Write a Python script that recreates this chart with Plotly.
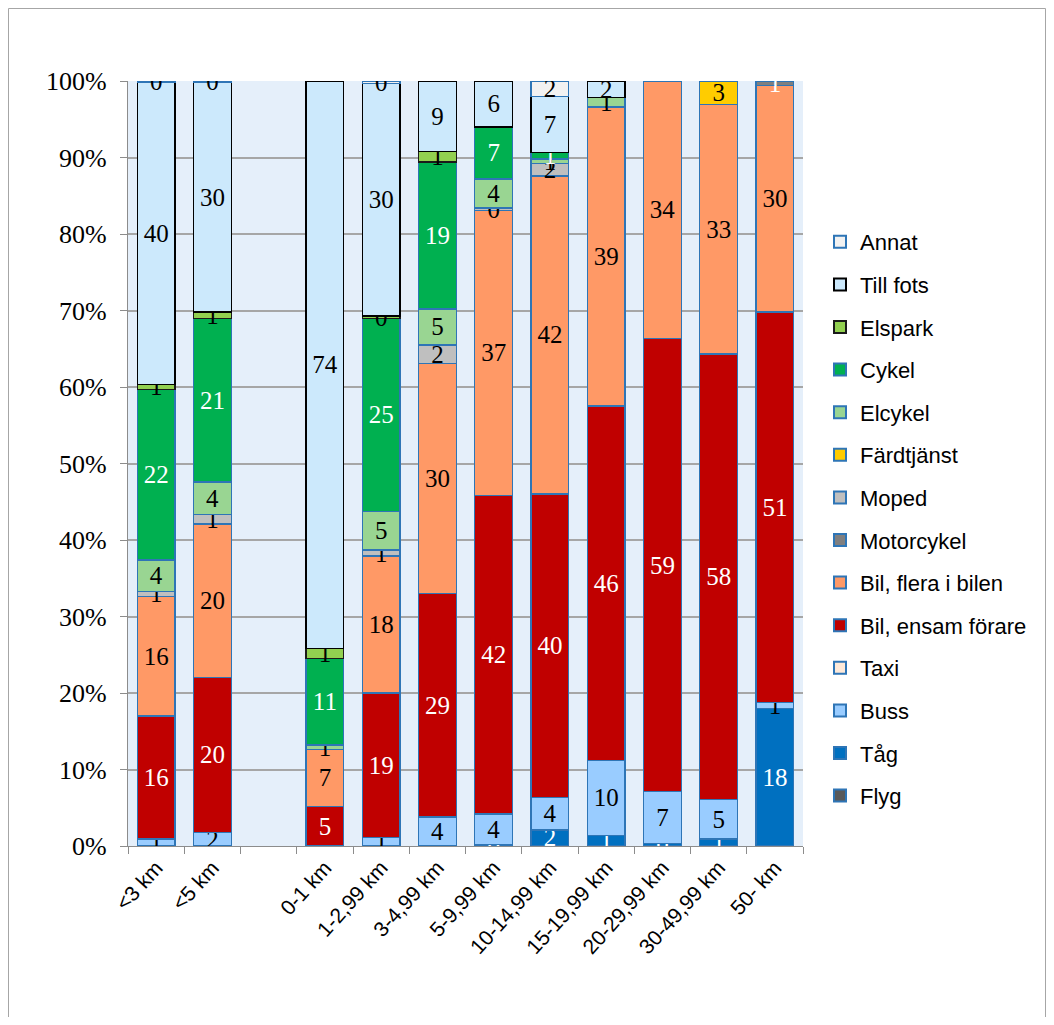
import plotly.graph_objects as go

categories = ["<3 km", "<5 km", " ", "0-1 km", "1-2,99 km", "3-4,99 km", "5-9,99 km",
              "10-14,99 km", "15-19,99 km", "20-29,99 km", "30-49,99 km", "50- km"]

# Stack order: bottom to top
flyg        = [None, None, None, None, None, None, None, None, None, None, None, None]
tag         = [None, None, None, None, None, None, 0.2, 2.1, 1.4, 0.3, 0.9, 18.0]
buss        = [0.9, 1.8, None, None, 1.1, 3.8, 4.0, 4.2, 9.8, 6.8, 5.2, 0.8]
taxi        = [None, None, None, None, None, None, None, None, None, None, None, None]
bil_ensam   = [16.1, 20.2, None, 5.2, 18.9, 29.2, 41.6, 39.7, 46.3, 59.2, 58.2, 51.0]
bil_flera   = [15.6, 20.1, None, 7.4, 17.9, 30.1, 37.3, 41.6, 39.1, 33.7, 32.6, 29.6]
motorcykel  = [None, None, None, None, None, None, None, None, None, None, None, 0.6]
moped       = [0.7, 1.2, None, None, 0.8, 2.4, 0.3, 1.6, None, None, None, None]
fardtjanst  = [None, None, None, None, None, None, None, None, None, None, 3.1, None]
elcykel     = [4.1, 4.3, None, 0.6, 5.0, 4.7, 3.8, 0.6, 1.2, None, None, None]
cykel       = [22.3, 21.4, None, 11.3, 25.3, 19.2, 6.8, 0.9, None, None, None, None]
elspark     = [0.6, 0.8, None, 1.3, 0.3, 1.4, None, None, None, None, None, None]
till_fots   = [39.5, 30.0, None, 74.2, 30.4, 9.2, 6.0, 7.3, 2.2, None, None, None]
annat       = [0.2, 0.2, None, None, 0.3, None, None, 2.0, None, None, None, None]

series = [
    ("Flyg", flyg, "#595959", "#2e75b6", "white"),
    ("Tåg", tag, "#0070c0", "#2e75b6", "white"),
    ("Buss", buss, "#99ccff", "#2e75b6", "black"),
    ("Taxi", taxi, "#fde9d9", "#2e75b6", "black"),
    ("Bil, ensam förare", bil_ensam, "#c00000", "#2e75b6", "white"),
    ("Bil, flera i bilen", bil_flera, "#ff9966", "#2e75b6", "black"),
    ("Motorcykel", motorcykel, "#7f7f7f", "#2e75b6", "white"),
    ("Moped", moped, "#bfbfbf", "#2e75b6", "black"),
    ("Färdtjänst", fardtjanst, "#ffcc00", "#2e75b6", "black"),
    ("Elcykel", elcykel, "#99d592", "#2e75b6", "black"),
    ("Cykel", cykel, "#00b050", "#2e75b6", "white"),
    ("Elspark", elspark, "#92d050", "#1a1a1a", "black"),
    ("Till fots", till_fots, "#cce9fc", "#000000", "black"),
    ("Annat", annat, "#f2f2f2", "#2e75b6", "black"),
]

fig = go.Figure()
n = len(series)
for i, (name, vals, color, line_color, txtcol) in enumerate(series):
    fig.add_trace(go.Bar(
        x=categories, y=vals, name=name, legendgroup=name, legendrank=n - i,
        marker=dict(color=color, line=dict(color=line_color, width=1.3)),
        texttemplate="%{y:.0f}", textposition="inside", insidetextanchor="middle",
        textangle=0, constraintext="none",
        textfont=dict(family="Liberation Serif, Times New Roman, serif", size=25, color=txtcol),
        hoverinfo="name+y",
    ))

# page body has an 8px margin; figure coordinates below
FW, FH = 1038, 1009
L, R, T, B = 120, 795, 73, 838
W, H = R - L, B - T

def px_x(p):
    return (p - L) / W

def px_y(p):
    return (B - p) / H

fig.update_layout(
    width=FW, height=FH,
    margin=dict(l=L, r=FW - R, t=T, b=FH - B),
    barmode="stack", bargap=0.33,
    paper_bgcolor="white", plot_bgcolor="#e5effa",
    showlegend=True,
    legend=dict(
        x=px_x(812), y=px_y(213), xanchor="left", yanchor="top",
        traceorder="grouped", tracegroupgap=11,
        font=dict(family="Liberation Sans, Arial, sans-serif", size=22, color="black"),
        bgcolor="rgba(0,0,0,0)", itemsizing="constant",
    ),
    uniformtext=dict(minsize=25, mode="show"),
    xaxis=dict(
        type="category", categoryorder="array", categoryarray=categories,
        tickangle=-48, tickson="boundaries", ticks="outside", ticklen=7,
        tickcolor="#8c8c8c", showline=True, linecolor="#8c8c8c", linewidth=1.3,
        showgrid=False,
        tickfont=dict(family="Liberation Sans, Arial, sans-serif", size=21, color="black"),
    ),
    yaxis=dict(
        range=[0, 100], dtick=10, ticksuffix="%", ticks="outside", ticklen=7,
        tickcolor="#8c8c8c", showline=True, linecolor="#8c8c8c", linewidth=1.3,
        showgrid=True, gridcolor="#a6a6a6", gridwidth=1.5, zeroline=False,
        ticklabelstandoff=8,
        tickfont=dict(family="Liberation Serif, Times New Roman, serif", size=26, color="black"),
    ),
    shapes=[dict(
        type="rect", xref="paper", yref="paper",
        x0=px_x(0.5), x1=px_x(FW - 0.5), y0=px_y(FH + 20), y1=px_y(0.5),
        line=dict(color="#a6a6a6", width=1), fillcolor="rgba(0,0,0,0)", layer="below",
    )],
)

fig.write_html("out.html")
